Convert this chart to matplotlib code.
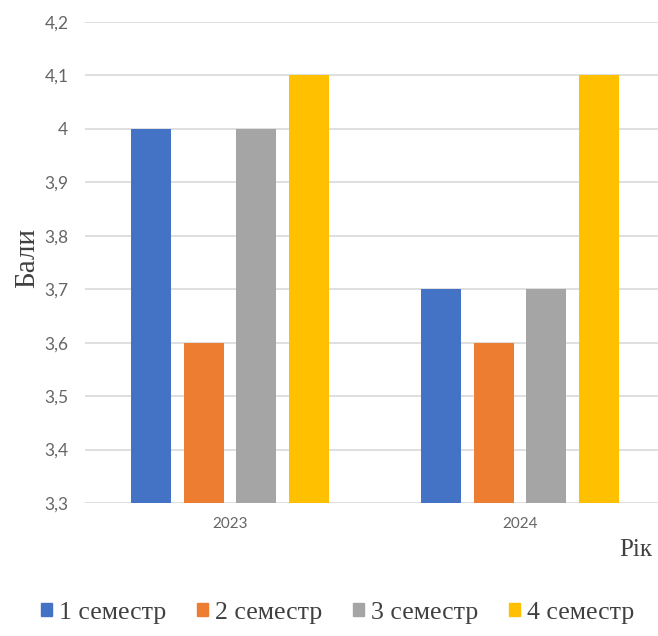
import numpy as np
import matplotlib
matplotlib.use('Agg')
import matplotlib.pyplot as plt
from matplotlib.patches import Patch

years = ['2023', '2024']
semesters = ['1 семестр', '2 семестр', '3 семестр', '4 семестр']
sem1 = [4.0, 3.7]
sem2 = [3.6, 3.6]
sem3 = [4.0, 3.7]
sem4 = [4.1, 4.1]
colors = ['#4472C4', '#ED7D31', '#A5A5A5', '#FFC000']

W, H = 658, 636
fig = plt.figure(figsize=(W / 100, H / 100), dpi=100)
ax = fig.add_axes([85 / W, 1 - 503 / H, 1 - 85 / W, (503 - 22) / H])

x = np.arange(len(years))
step = 0.181
width = 0.138
series = [sem1, sem2, sem3, sem4]
for i, vals in enumerate(series):
    ax.bar(x + (i - 1.5) * step, np.array(vals) - 3.3, width, bottom=3.3,
           color=colors[i], zorder=3)

ax.set_ylim(3.3, 4.2)
ax.set_xlim(-0.5, -0.5 + (W - 85) / 290)
ticks = np.round(np.arange(3.3, 4.21, 0.1), 1)
ax.set_yticks(ticks)
ax.set_yticklabels([('%g' % t).replace('.', ',') for t in ticks],
                   fontsize=12.5, color='#666666', family='Lato')
ax.set_xticks(x)
ax.set_xticklabels(years, fontsize=11, color='#666666', family='Lato')
ax.tick_params(length=0, pad=12, axis='y')
ax.tick_params(length=0, pad=10, axis='x')
ax.grid(axis='y', color='#D9D9D9', linewidth=1.2, zorder=0)
for s in ax.spines.values():
    s.set_visible(False)

fig.text(27 / W, 1 - 258 / H, 'Бали', rotation=90, ha='center', va='center',
         fontsize=21, family='Liberation Serif', color='#404040')
fig.text(652 / W, 1 - 550 / H, 'Рік', ha='right', va='center',
         fontsize=18, family='Liberation Serif', color='#404040')

handles = [Patch(color=c) for c in colors]
fig.legend(handles, semesters, loc='center', bbox_to_anchor=(338 / W, 1 - 613 / H),
           ncol=4, frameon=False, handlelength=0.4, handleheight=0.4,
           handletextpad=0.3, columnspacing=1.2,
           prop={'family': 'Liberation Serif', 'size': 18.5})
for t in fig.legends[0].get_texts():
    t.set_color('#404040')

fig.savefig('out.png', dpi=100)
